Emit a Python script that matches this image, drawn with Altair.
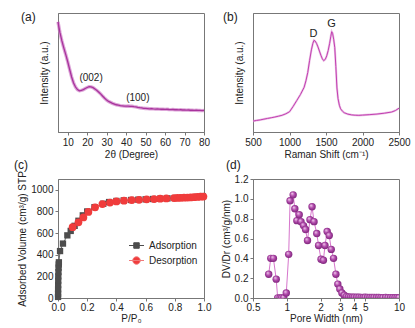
import altair as alt
import pandas as pd

FONT = "Liberation Sans"
TXT = "#222222"
FRAME = "#777777"

# ---------------- (a) XRD ----------------
xrd_2theta = list(range(5, 81))
xrd_intensity = [
    0.925, 0.835, 0.765, 0.705, 0.650, 0.590, 0.525, 0.462, 0.412, 0.378,
    0.356, 0.346, 0.349, 0.356, 0.366, 0.374, 0.381, 0.379, 0.373, 0.361,
    0.349, 0.334, 0.318, 0.300, 0.283, 0.268, 0.257, 0.249, 0.241, 0.235,
    0.229, 0.226, 0.222, 0.220, 0.218, 0.217, 0.218, 0.216, 0.216, 0.213,
    0.211, 0.207, 0.204, 0.202, 0.199, 0.198, 0.197, 0.195, 0.196, 0.194,
    0.193, 0.194, 0.192, 0.191, 0.192, 0.190, 0.191, 0.189, 0.188, 0.189,
    0.187, 0.188, 0.186, 0.187, 0.185, 0.186, 0.184, 0.185, 0.183, 0.184,
    0.182, 0.183, 0.181, 0.182, 0.180, 0.181,
]
xrd_peak_labels = ["(002)", "(100)"]
xrd_peak_x = [22, 46]
xrd_peak_y = [0.45, 0.285]

# ---------------- (b) Raman ----------------
raman_shift = [500, 550, 600, 650, 700, 750, 800, 850, 900, 950, 1000, 1050,
               1100, 1150, 1200, 1225, 1250, 1275, 1300, 1320, 1335, 1350,
               1370, 1390, 1410, 1430, 1450, 1468, 1490, 1510, 1530, 1550,
               1565, 1578, 1590, 1605, 1620, 1635, 1650, 1665, 1683, 1700,
               1725, 1750, 1800, 1850, 1900, 1950, 2000, 2100, 2200, 2300,
               2400, 2450, 2500]
raman_intensity = [0.092, 0.097, 0.102, 0.108, 0.114, 0.120, 0.126, 0.133,
                   0.141, 0.153, 0.170, 0.215, 0.265, 0.315, 0.375, 0.43,
                   0.50, 0.60, 0.69, 0.745, 0.77, 0.765, 0.745, 0.715, 0.68,
                   0.645, 0.615, 0.60, 0.61, 0.64, 0.685, 0.745, 0.80, 0.843,
                   0.83, 0.78, 0.71, 0.55, 0.37, 0.28, 0.225, 0.195, 0.175,
                   0.162, 0.150, 0.144, 0.141, 0.140, 0.142, 0.146, 0.151,
                   0.158, 0.168, 0.180, 0.200]
raman_band_labels = ["D", "G"]
raman_band_x = [1330, 1575]
raman_band_y = [0.82, 0.91]

# ---------------- (c) N2 isotherm ----------------
ads_p = [0.0003, 0.0005, 0.0008, 0.001, 0.0015, 0.002, 0.003, 0.004, 0.005,
         0.006, 0.014, 0.034, 0.064, 0.087, 0.114, 0.14, 0.17, 0.2, 0.25,
         0.31, 0.35, 0.4, 0.45, 0.5, 0.55, 0.6, 0.65, 0.7, 0.75, 0.8, 0.85,
         0.9, 0.95, 0.99]
ads_v = [10, 40, 80, 120, 160, 200, 240, 280, 310, 330, 434, 503, 579, 620,
         667, 714, 764, 800, 840, 871, 887, 897, 902, 906, 909, 912, 915, 918,
         921, 924, 927, 930, 934, 942]
des_p = [0.1, 0.14, 0.174, 0.208, 0.254, 0.304, 0.356, 0.40, 0.452, 0.505,
         0.555, 0.607, 0.658, 0.70, 0.742, 0.795, 0.818, 0.84, 0.863, 0.886,
         0.909, 0.932, 0.955, 0.977, 0.996]
des_v = [655, 700, 745, 795, 838, 868, 882, 893, 900, 905, 908, 912, 915, 918,
         920, 924, 925, 926, 927, 928, 930, 932, 934, 936, 938]
series_names = ["Adsorption", "Desorption"]
series_colors = ["#4d4d4d", "#f03c3c"]

# ---------------- (d) pore size distribution ----------------
pore_width = [0.69, 0.72, 0.76, 0.805, 0.83, 0.87, 0.90, 0.94, 0.99, 1.04,
              1.07, 1.14, 1.18, 1.23, 1.29, 1.34, 1.41, 1.47, 1.53, 1.61,
              1.68, 1.75, 1.85, 1.92, 2.02, 2.12, 2.19, 2.29, 2.39, 2.49,
              2.61, 2.74, 2.85, 2.97, 3.10, 3.25, 3.40, 3.55, 3.7, 3.85, 4.0,
              4.2, 4.4, 4.6, 4.8, 5.0, 5.25, 5.5, 5.75, 6.0, 6.3, 6.6, 6.9,
              7.2, 7.6, 8.0, 8.4, 8.8, 9.2, 9.6, 10.0]
pore_dv = [0.24, 0.40, 0.40, 0.19, 0.0, 0.0, 0.0, 0.0, 0.05, 0.44, 0.98, 1.04,
           0.90, 0.78, 0.84, 0.77, 0.73, 0.69, 0.58, 0.79, 0.92, 0.77, 0.65,
           0.53, 0.39, 0.38, 0.53, 0.67, 0.63, 0.49, 0.40, 0.24, 0.14, 0.09,
           0.05, 0.027, 0.014, 0.01, 0.009, 0.008, 0.008, 0.007, 0.007, 0.006,
           0.006, 0.007, 0.006, 0.005, 0.005, 0.006, 0.005, 0.005, 0.004,
           0.004, 0.005, 0.004, 0.004, 0.004, 0.003, 0.004, 0.003]

panel_labels = ["(a)", "(b)", "(c)", "(d)"]

W, H = 146, 119


def ax(**kw):
    base = dict(labelFont=FONT, titleFont=FONT, labelFontSize=10,
                titleFontSize=10, titleFontWeight="normal", labelColor=TXT,
                titleColor=TXT, domainColor=FRAME, tickColor=FRAME,
                tickSize=3, labelPadding=2, grid=False, labelFlush=False,
                labelOverlap=False)
    base.update(kw)
    return alt.Axis(**base)


def plabel(i, dx, dy):
    return alt.Chart(pd.DataFrame({"lab": [panel_labels[i]]})).mark_text(
        font=FONT, fontSize=12, color=TXT, align="left", baseline="alphabetic"
    ).encode(text="lab:N", x=alt.value(dx), y=alt.value(dy))


# ----- panel a -----
df_a = pd.DataFrame({"t": xrd_2theta, "i": xrd_intensity})
df_a_lab = pd.DataFrame({"t": xrd_peak_x, "i": xrd_peak_y, "lab": xrd_peak_labels})
xa = alt.X("t:Q", scale=alt.Scale(domain=[5, 80], nice=False, zero=False),
           axis=ax(values=list(range(10, 81, 10)), title="2θ (Degree)", titlePadding=2))
ya = alt.Y("i:Q", scale=alt.Scale(domain=[0, 1], nice=False),
           axis=ax(labels=False, ticks=False, title="Intensity (a.u.)",
                   titlePadding=9, minExtent=0, maxExtent=0))
halo_a = alt.Chart(df_a).mark_line(color="#cf7fc7", strokeWidth=3.4, opacity=0.7).encode(x=xa, y=ya)
line_a = alt.Chart(df_a).mark_line(color="#a8339c", strokeWidth=1.3).encode(x=xa, y=ya)
lab_a = alt.Chart(df_a_lab).mark_text(font=FONT, fontSize=10, color=TXT).encode(x=xa, y=ya, text="lab:N")
panel_a = alt.layer(halo_a, line_a, lab_a, plabel(0, -37, 8)).properties(width=W, height=H)

# ----- panel b -----
df_b = pd.DataFrame({"s": raman_shift, "i": raman_intensity})
df_b_lab = pd.DataFrame({"s": raman_band_x, "i": raman_band_y, "lab": raman_band_labels})
xb = alt.X("s:Q", scale=alt.Scale(domain=[500, 2500], nice=False, zero=False),
           axis=ax(values=[500, 1000, 1500, 2000, 2500], format="d",
                   title="Raman Shift (cm⁻¹)", titlePadding=2))
yb = alt.Y("i:Q", scale=alt.Scale(domain=[0, 1], nice=False),
           axis=ax(labels=False, ticks=False, title="Intensity (a.u.)",
                   titlePadding=9, minExtent=0, maxExtent=0))
halo_b = alt.Chart(df_b).mark_line(color="#e2a6dc", strokeWidth=2.2, opacity=0.7).encode(x=xb, y=yb)
line_b = alt.Chart(df_b).mark_line(color="#c23fb0", strokeWidth=1.0).encode(x=xb, y=yb)
lab_b = alt.Chart(df_b_lab).mark_text(font=FONT, fontSize=11, color=TXT).encode(x=xb, y=yb, text="lab:N")
panel_b = alt.layer(halo_b, line_b, lab_b, plabel(1, -30, 8)).properties(width=W, height=H)

# ----- panel c -----
df_ads = pd.DataFrame({"p": ads_p, "v": ads_v, "series": series_names[0]})
df_des = pd.DataFrame({"p": des_p, "v": des_v, "series": series_names[1]})
xc = alt.X("p:Q", scale=alt.Scale(domain=[0, 1], nice=False),
           axis=ax(values=[0, 0.2, 0.4, 0.6, 0.8, 1.0], format=".1f", title="P/P₀",
                   titlePadding=1, labelPadding=1))
yc = alt.Y("v:Q", scale=alt.Scale(domain=[0, 1100], nice=False),
           axis=ax(values=[0, 200, 400, 600, 800, 1000], format="d",
                   title="Adsorbed Volume (cm³/g) STP", titlePadding=3))
SQ = "M-1.5,0H1.5M-0.55,-0.55H0.55V0.55H-0.55Z"
CI = "M-1.5,0H1.5M0.75,0A0.75,0.75,0,1,1,-0.75,0A0.75,0.75,0,1,1,0.75,0Z"
legend_c = alt.Legend(
    title=None, orient="none", legendX=73, legendY=61, symbolSize=100,
    labelFont=FONT, labelFontSize=10, labelColor=TXT, labelOffset=7,
    rowPadding=3, padding=0, symbolStrokeWidth=1,
    symbolType=alt.ExprRef(expr="datum.value === 'Adsorption' ? '" + SQ + "' : '" + CI + "'"),
    symbolStrokeColor=alt.ExprRef(
        expr="datum.value === 'Adsorption' ? '" + series_colors[0] + "' : '#f07a7a'"),
)
color_c = alt.Color("series:N", scale=alt.Scale(domain=series_names, range=series_colors),
                    legend=legend_c)
line_ads = alt.Chart(df_ads).mark_line(color="#666666", strokeWidth=1).encode(x=xc, y=yc)
line_des = alt.Chart(df_des).mark_line(color="#f07a7a", strokeWidth=1).encode(x=xc, y=yc)
pts_ads = alt.Chart(df_ads).mark_point(filled=True, opacity=1, shape="square", size=40).encode(
    x=xc, y=yc, color=color_c)
pts_des = alt.Chart(df_des).mark_point(filled=True, opacity=1, shape="circle", size=60).encode(
    x=xc, y=yc, color=color_c)
panel_c = alt.layer(line_ads, line_des, pts_ads, pts_des, plabel(2, -44, -10)).properties(width=W, height=H)

# ----- panel d -----
df_d = pd.DataFrame({"w": pore_width, "dv": pore_dv})
xd = alt.X("w:Q", scale=alt.Scale(type="log", domain=[0.5, 10], nice=False),
           axis=ax(values=[0.5, 1, 2, 3, 4, 5, 10], format="~g", title="Pore Width (nm)",
                   titlePadding=1, labelPadding=1))
yd = alt.Y("dv:Q", scale=alt.Scale(domain=[0, 1.2], nice=False),
           axis=ax(values=[0, 0.2, 0.4, 0.6, 0.8, 1.0, 1.2], format=".1f",
                   title="DV/Dr (cm³/g/nm)", titlePadding=3))
sphere = alt.RadialGradient(
    gradient="radial", x1=0.35, y1=0.3, r1=0.0, x2=0.5, y2=0.5, r2=0.6,
    stops=[alt.GradientStop(color="#f6d8f2", offset=0.0),
           alt.GradientStop(color="#b44cae", offset=0.45),
           alt.GradientStop(color="#6e1a6c", offset=1.0)])
line_d = alt.Chart(df_d).mark_line(color="#d676cc", strokeWidth=1).encode(x=xd, y=yd)
pts_d = alt.Chart(df_d).mark_circle(size=55, opacity=1, fill=sphere, clip=True).encode(x=xd, y=yd)
panel_d = alt.layer(line_d, pts_d, plabel(3, -27, -10)).properties(width=W, height=H)

chart = alt.concat(
    panel_a, panel_b, panel_c, panel_d, columns=2,
    spacing={"row": 47, "column": 49}, bounds="flush",
).resolve_scale(color="independent").resolve_legend(color="independent").properties(
    padding={"left": 13, "top": 10, "right": 0, "bottom": 0},
    background="white",
).configure_view(stroke=FRAME, strokeWidth=1)

chart.save("out.html", embed_options={"renderer": "svg", "actions": False})
